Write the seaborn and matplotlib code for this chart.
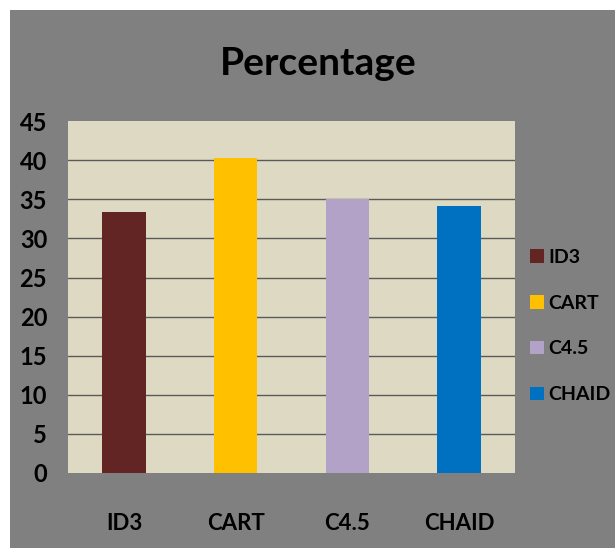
import matplotlib
matplotlib.use('Agg')
import matplotlib.pyplot as plt
import seaborn as sns
import pandas as pd
from matplotlib.patches import Rectangle

# Chart data
categories = ['ID3', 'CART', 'C4.5', 'CHAID']
percentages = [33.4, 40.3, 35.1, 34.1]
bar_colors = ['#632523', '#ffc000', '#b3a2c7', '#0070c0']
y_ticks = [0, 5, 10, 15, 20, 25, 30, 35, 40, 45]

sns.set_theme(style='white')
plt.rcParams['font.family'] = ['Lato', 'DejaVu Sans']

df = pd.DataFrame({'Algorithm': categories, 'Percentage': percentages})

fig = plt.figure(figsize=(6.15, 5.48), dpi=100)
fig.patch.set_facecolor('white')
# grey chart area with a thin white margin on top/left
bg = Rectangle((10 / 615, 0), 1, 1 - 10 / 548, transform=fig.transFigure,
               facecolor='#808080', edgecolor='none', zorder=-10)
fig.patches.append(bg)

ax = fig.add_axes([0.1106, 0.1369, 0.727, 0.642])
ax.set_zorder(1)
ax.set_facecolor('#ddd9c3')
sns.barplot(data=df, x='Algorithm', y='Percentage', hue='Algorithm',
            palette=bar_colors, width=0.39, dodge=False, legend=False, ax=ax,
            saturation=1, linewidth=0)

ax.set_ylim(0, 45)
ax.set_yticks(y_ticks)
ax.set_xlim(-0.5, 3.5)
for y in y_ticks[1:-1]:
    ax.axhline(y, color='#5a5a5a', linewidth=1.0, zorder=0.5)
for s in ax.spines.values():
    s.set_visible(False)
ax.set_xlabel('')
ax.set_ylabel('')
ax.tick_params(axis='y', length=0, pad=15, labelsize=17)
ax.tick_params(axis='x', length=0, pad=29, labelsize=16)
for lbl in ax.get_xticklabels() + ax.get_yticklabels():
    lbl.set_color('black')
    lbl.set_fontweight('bold')

fig.text(0.517, 1 - 75 / 548, 'Percentage', ha='center', va='baseline', fontsize=28,
         fontweight='bold', color='black')

# legend at right
handles = [Rectangle((0, 0), 1, 1, facecolor=c, edgecolor='none') for c in bar_colors]
leg = fig.legend(handles, categories, loc='center left', bbox_to_anchor=(0.862, 0.405),
                 frameon=False, fontsize=14, handlelength=0.7, handleheight=0.7,
                 handletextpad=0.25, labelspacing=1.48, borderaxespad=0, borderpad=0,
                 labelcolor='black')
for t in leg.get_texts():
    t.set_fontweight('bold')

plt.savefig('out.png', dpi=100)
plt.close()
